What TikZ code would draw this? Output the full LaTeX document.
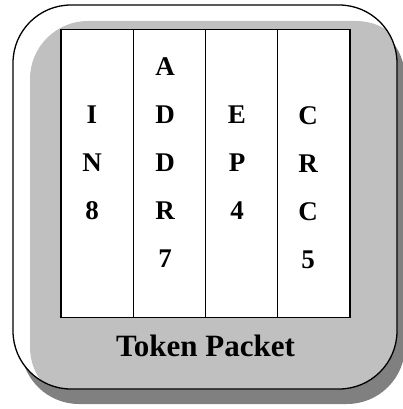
\documentclass[tikz,border=0pt]{standalone}
\usepackage{fontspec}
\setmainfont{Liberation Serif}
\usetikzlibrary{positioning}

\definecolor{panelgray}{HTML}{C0C0C0}
\definecolor{shadowgray}{HTML}{808080}

\begin{document}
\begin{tikzpicture}[
    x=1pt, y=-1pt,
    panel/.style={rounded corners=58pt},
    field/.style={rectangle, draw=black, line width=1.3pt, fill=white, inner sep=0pt, outer sep=0pt, minimum width=72.25pt, minimum height=288pt},
    letters/.style={anchor=north, align=center, inner sep=0pt, font=\fontsize{27}{48}\selectfont\bfseries},
    caption/.style={anchor=base, inner sep=0pt, font=\fontsize{31}{36}\selectfont\bfseries}
]
\useasboundingbox (0,0) rectangle (403,409);

% Shadow and panel
\fill[shadowgray, panel] (21,20) rectangle (405,404);
\fill[white, panel] (13,5) rectangle (397,389);
\begin{scope}
  \clip[panel] (13,5) rectangle (397,389);
  \fill[panelgray, panel] (30,21) rectangle (414,405);
\end{scope}
\draw[line width=1.3pt, panel] (13,5) rectangle (397,389);

% Packet fields
\node[field] (in) at (97.125,173.3) {};
\node[field, right=0pt of in] (addr) {};
\node[field, right=0pt of addr] (ep) {};
\node[field, right=0pt of ep] (crc) {};

% Field texts
\node[letters] (in-text) at (92,106) {I\\N\\8};
\node[letters] (addr-text) at (165,57.7) {A\\D\\D\\R\\7};
\node[letters] (ep-text) at (237,106) {E\\P\\4};
\node[letters] (crc-text) at (308,106) {C\\R\\C\\5};

% Caption
\node[caption] (title) at (205.5,356) {Token Packet};

\end{tikzpicture}
\end{document}
